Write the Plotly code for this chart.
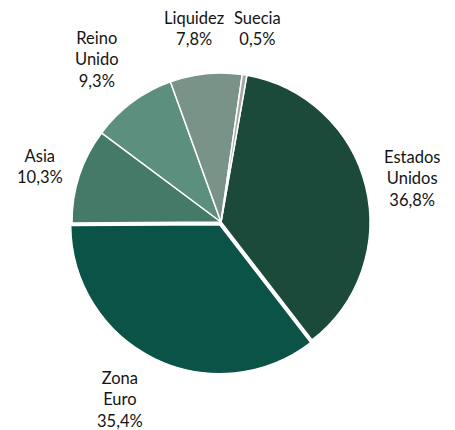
import plotly.graph_objects as go

categories = ["Estados Unidos", "Zona Euro", "Asia", "Reino Unido", "Liquidez", "Suecia"]
label_lines = ["Estados<br>Unidos", "Zona<br>Euro", "Asia", "Reino<br>Unido", "Liquidez", "Suecia"]
values = [36.8, 35.4, 10.3, 9.3, 7.8, 0.5]
value_labels = ["36,8%", "35,4%", "10,3%", "9,3%", "7,8%", "0,5%"]
colors = ["#1b4a3b", "#0b5247", "#467a68", "#5d8f7e", "#7a9388", "#a6a6a6"]
pulls = [0, 0.02, 0, 0, 0, 0]

# layout (screen pixels of the 455x430 window; page body has an 8px margin)
OFF = 8
W, H = 455 - OFF, 430 - OFF
cx, cy, R = 221 - OFF, 222 - OFF, 149
Rd = R * (1 + max(pulls))
label_pos = [(412, 178), (120, 399), (40, 166), (97, 60), (194, 28), (257, 28)]

fig = go.Figure(go.Pie(
    labels=categories,
    values=values,
    sort=False,
    direction="clockwise",
    rotation=10,
    pull=pulls,
    marker=dict(colors=colors, line=dict(color="white", width=1.5)),
    textinfo="none",
    hoverinfo="label+percent",
    domain=dict(x=[(cx - Rd) / W, (cx + Rd) / W], y=[1 - (cy + Rd) / H, 1 - (cy - Rd) / H]),
))

for name, lab, (sx, sy) in zip(label_lines, value_labels, label_pos):
    fig.add_annotation(
        x=(sx - OFF) / W, y=1 - (sy - OFF) / H, xref="paper", yref="paper",
        text=f"{name}<br>{lab}", showarrow=False,
        xanchor="center", yanchor="middle", align="center",
        font=dict(family="Lato", size=16.5, color="#141414"),
    )

fig.update_layout(
    width=W, height=H,
    margin=dict(l=0, r=0, t=0, b=0),
    paper_bgcolor="white", plot_bgcolor="white",
    showlegend=False,
)

fig.write_html("out.html")
